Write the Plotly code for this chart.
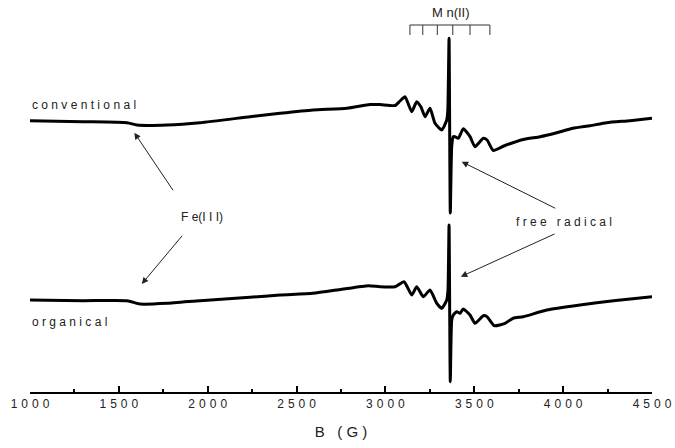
import plotly.graph_objects as go

# ---- data ----
conv_B = [1000, 1298, 1546, 1602, 1771, 1957, 2238, 2407, 2592, 2784, 2913, 2969, 3054, 3082, 3110,
          3148, 3176, 3200, 3223, 3251, 3279, 3317, 3345, 3351, 3358, 3365, 3373, 3382, 3391, 3410,
          3438, 3476, 3504, 3551, 3572, 3607, 3673, 3776, 3870, 3964, 4055, 4151, 4245, 4376, 4500]
conv_I = [-0.7, -1.7, -2.7, -5, -5, -2.7, 3.3, 6.7, 10, 11.7, 15.5, 15.5, 14.5, 19, 23.3,
          8.3, 18.3, 13, 3.3, 11.7, -3.3, -10, 0, 10, 81.7, -93, -26.7, -16.7, -16.7, -18.3,
          -8.8, -16.7, -26.7, -18.3, -20, -30.5, -25.5, -19.5, -16.7, -12.7, -8.3, -5.7, -2.7, -0.7, 1.7]

org_B = [1000, 1298, 1546, 1619, 1771, 1957, 2238, 2407, 2592, 2754, 2904, 2969, 3054, 3105, 3148,
         3176, 3213, 3251, 3289, 3317, 3345, 3352, 3358, 3365, 3373, 3382, 3401, 3420, 3438, 3476,
         3504, 3551, 3572, 3613, 3673, 3718, 3776, 3908, 4095, 4283, 4500]
org_I = [0, -0.7, -0.7, -4, -3.3, -0.7, 2.7, 5, 6.7, 10.7, 14.3, 13.3, 13.3, 18.3, 5,
         13.3, 3.3, 10, -3.3, -8.3, 0, 10, 75, -81.7, -20, -15, -11.7, -13.3, -9, -15,
         -23.3, -15.7, -16.7, -25.7, -23.3, -18.3, -16.7, -10, -5, -0.7, 3.3]

mn_lines = [3138, 3210, 3292, 3379, 3476, 3588]

tick_vals = [1000, 1500, 2000, 2500, 3000, 3500, 4000, 4500]
tick_labels = ["1000", "1500", "2000", "2500", "3000", "3500", "4000", "4500"]

conv_offset = 0
org_offset = -180

FONT = "Liberation Sans, Arial, sans-serif"
TXT = "#222222"
NB = "\u00a0"


def spaced(s, sep=" "):
    return sep.join(list(s))


fig = go.Figure()
fig.add_trace(go.Scatter(x=conv_B, y=[v + conv_offset for v in conv_I], mode="lines",
                         line=dict(color="black", width=3, shape="spline", smoothing=0.5),
                         showlegend=False))
fig.add_trace(go.Scatter(x=org_B, y=[v + org_offset for v in org_I], mode="lines",
                         line=dict(color="black", width=3, shape="spline", smoothing=0.5),
                         showlegend=False))

# Mn(II) hyperfine bracket
bracket_y, bracket_tick = 95, 85
fig.add_shape(type="line", x0=mn_lines[0], x1=mn_lines[-1], y0=bracket_y, y1=bracket_y,
              line=dict(color="#333", width=1))
for b in mn_lines:
    fig.add_shape(type="line", x0=b, x1=b, y0=bracket_y, y1=bracket_tick,
                  line=dict(color="#333", width=1))

ann = []
def text(x, y, s, xanchor="center", size=12):
    ann.append(dict(x=x, y=y, xref="x", yref="y", text=s, showarrow=False, xanchor=xanchor,
                    yanchor="middle", font=dict(family=FONT, size=size, color=TXT)))

def arrow(x_tail, y_tail, x_head, y_head):
    ann.append(dict(x=x_head, y=y_head, ax=x_tail, ay=y_tail, xref="x", yref="y", axref="x",
                    ayref="y", text="", showarrow=True, arrowhead=2, arrowsize=1.3, arrowwidth=1,
                    arrowcolor="#222"))

text(1000, 15, spaced("conventional"), xanchor="left")
text(1000, -201.7, spaced("organical"), xanchor="left")
text(3369, 107.3, "M n(II)", size=13)
text(1968, -96.7, "F e(I I I)")
text(4005, -101.7, spaced("free radical"))
arrow(1810, -71.7, 1587, -12.7)
arrow(1863, -114.3, 1629, -164)
arrow(3964, -89, 3429, -41.7)
arrow(3960, -113.3, 3424, -156.7)

fig.update_layout(
    width=675, height=448,
    margin=dict(l=30, r=23, t=5, b=56),
    paper_bgcolor="white", plot_bgcolor="white",
    annotations=ann,
    font=dict(family=FONT, color=TXT),
    xaxis=dict(range=[1000, 4500], showgrid=False, zeroline=False, automargin=False,
               showline=True, linecolor="black", linewidth=1.5,
               ticks="inside", ticklen=6, tickwidth=1.5, tickcolor="black",
               tickvals=tick_vals, ticktext=[spaced(t, "\u2004") for t in tick_labels],
               tickfont=dict(family=FONT, size=12, color=TXT),
               minor=dict(dtick=250, tick0=1000, ticks="inside", ticklen=3, tickwidth=1.5,
                          tickcolor="black"),
               title=dict(text="B" + NB * 3 + "(" + NB + "G" + NB + ")",
                          font=dict(family=FONT, size=15, color=TXT), standoff=16)),
    yaxis=dict(range=[-272, 115], visible=False, automargin=False),
)

fig.write_html("out.html")
